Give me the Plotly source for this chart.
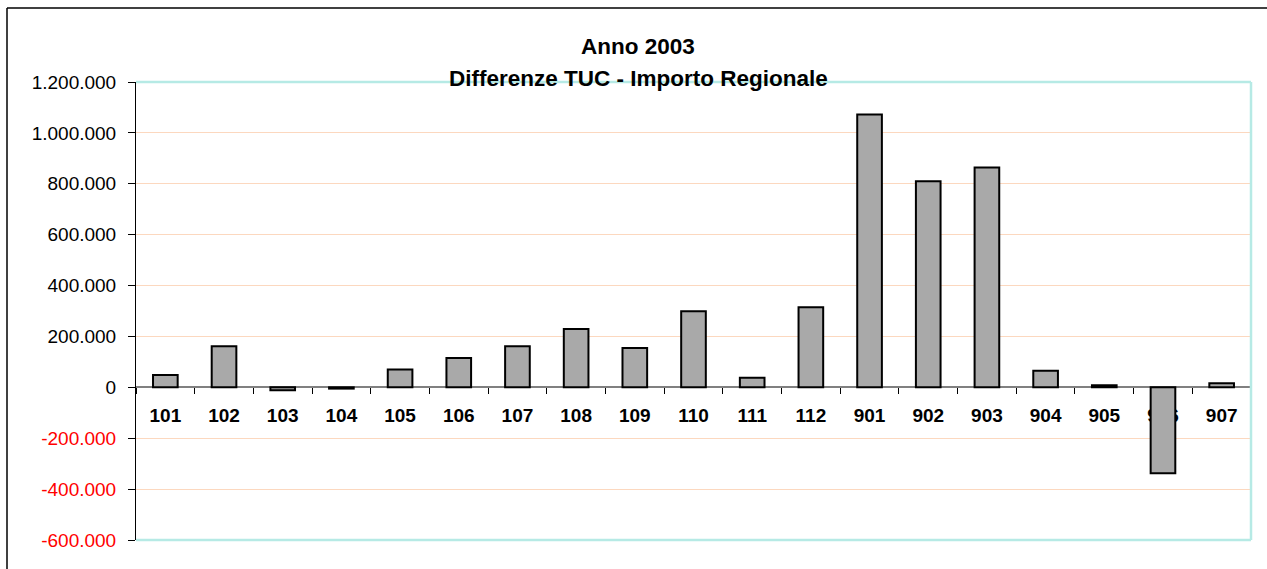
import plotly.graph_objects as go

categories = ["101", "102", "103", "104", "105", "106", "107", "108", "109", "110",
              "111", "112", "901", "902", "903", "904", "905", "906", "907"]
values = [48000, 161000, -11000, -5000, 70000, 115000, 161000, 229000, 155000, 299000,
          38000, 315000, 1072000, 810000, 864000, 65000, 8000, -338000, 16000]
tick_vals = [-600000, -400000, -200000, 0, 200000, 400000, 600000, 800000, 1000000, 1200000]
title_lines = ["Anno 2003", "Differenze TUC - Importo Regionale"]

W, H = 1267, 569
L, R, T, B = 136, 16, 82, 29
PW, PH = W - L - R, H - T - B


def px_x(p):
    return (p - L) / PW


def px_y(p):
    return (H - B - p) / PH


def fmt(v):
    s = f"{abs(v):,}".replace(",", ".")
    if v < 0:
        return f"<span style='color:#FF0000'>-{s}</span>"
    return s


FONT = "Liberation Sans, Arial, sans-serif"

fig = go.Figure(go.Bar(
    x=categories, y=values,
    marker=dict(color="#A9A9A9", line=dict(color="#000000", width=2)),
    width=0.42,
))

ymin, ymax = tick_vals[0], tick_vals[-1]

fig.update_layout(
    width=W, height=H,
    margin=dict(l=L, r=R, t=T, b=B, pad=0),
    paper_bgcolor="white", plot_bgcolor="white",
    showlegend=False,
    font=dict(family=FONT, color="black"),
    xaxis=dict(
        type="category",
        anchor="free",
        position=(0 - ymin) / (ymax - ymin),
        showline=True, linecolor="#808080", linewidth=1.5,
        ticks="outside", tickson="boundaries", ticklen=6, tickcolor="#000000", tickwidth=1,
        tickfont=dict(family=FONT, size=19, color="black", weight="bold"),
        showgrid=False, zeroline=False,
        ticklabelstandoff=11,
        layer="below traces",
    ),
    yaxis=dict(
        range=[ymin, ymax],
        tickvals=tick_vals,
        ticktext=[fmt(v) for v in tick_vals],
        tickfont=dict(family=FONT, size=19, color="black"),
        showline=True, linecolor="#000000", linewidth=1,
        ticks="outside", ticklen=7, tickcolor="#000000",
        showgrid=True, gridcolor="#FCD8BF", gridwidth=1,
        zeroline=False,
        ticklabelstandoff=8,
    ),
)

# plot-area border (top, right, bottom) in light cyan
for (x0, y0, x1, y1) in [(0, 1, 1, 1), (1, 0, 1, 1), (0, 0, 1, 0)]:
    fig.add_shape(type="line", xref="paper", yref="paper", x0=x0, y0=y0, x1=x1, y1=y1,
                  line=dict(color="#B6EAE5", width=2.5), layer="above")

# outer chart frame (left and top edges visible)
fig.add_shape(type="line", xref="paper", yref="paper",
              x0=px_x(7), y0=px_y(8), x1=px_x(1290), y1=px_y(8),
              line=dict(color="#000000", width=1.5))
fig.add_shape(type="line", xref="paper", yref="paper",
              x0=px_x(7), y0=px_y(8), x1=px_x(7), y1=px_y(600),
              line=dict(color="#000000", width=1.5))

fig.add_annotation(text=f"<b>{title_lines[0]}</b>", xref="paper", yref="paper",
                   x=px_x(638), y=px_y(47), showarrow=False, xanchor="center", yanchor="middle",
                   font=dict(family=FONT, size=22.5, color="black"))
fig.add_annotation(text=f"<b>{title_lines[1]}</b>", xref="paper", yref="paper",
                   x=px_x(638), y=px_y(79), showarrow=False, xanchor="center", yanchor="middle",
                   font=dict(family=FONT, size=22.5, color="black"))

fig.write_html("out.html", config={"displayModeBar": False},
               post_script="document.body.style.margin='0';document.body.style.overflow='hidden';")
